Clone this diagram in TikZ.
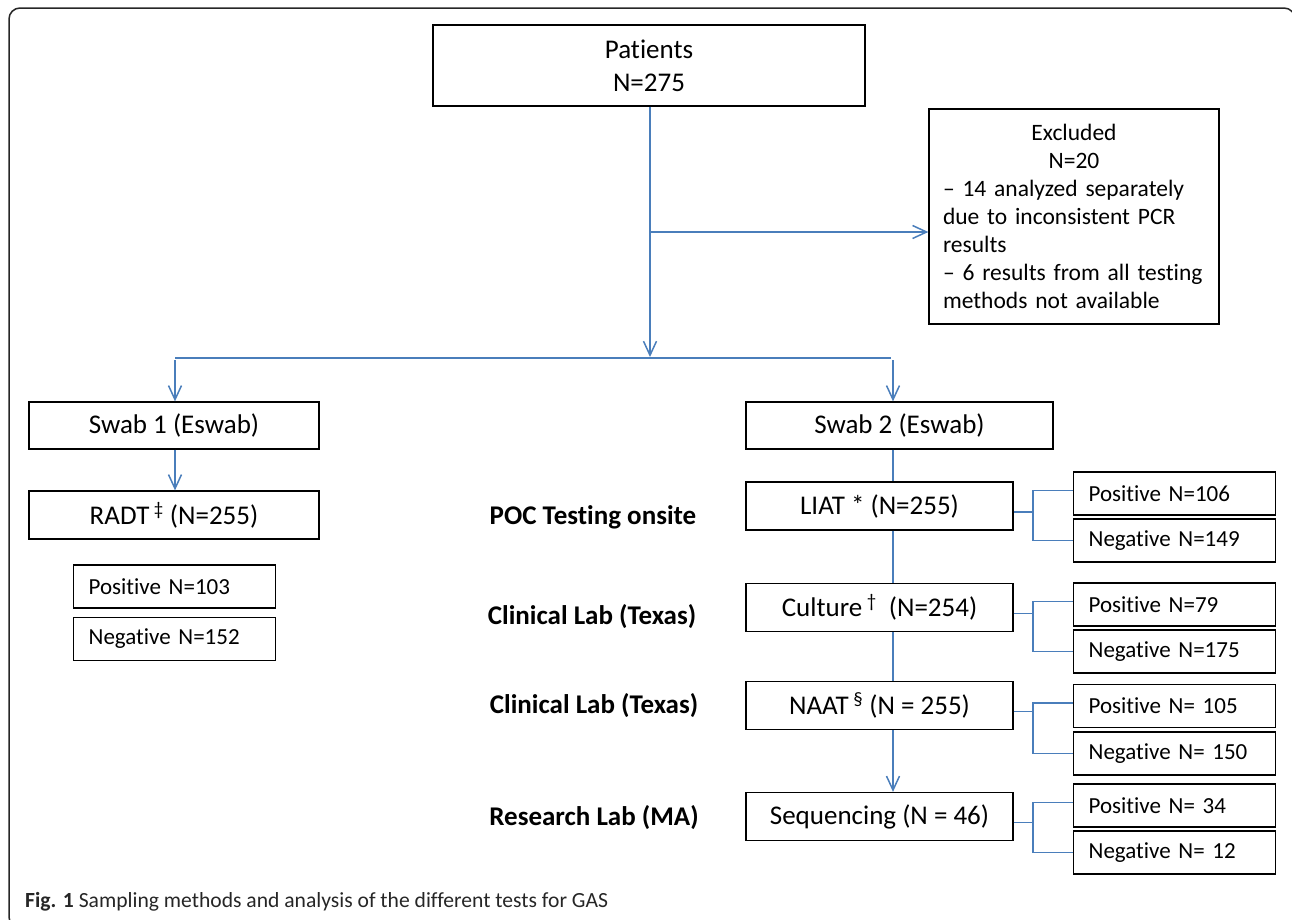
\documentclass[tikz,border=0pt]{standalone}
\usepackage{fontspec}
\setmainfont{Carlito}[Ligatures={NoCommon,NoRare}]
\usetikzlibrary{arrows.meta}
\definecolor{lnblue}{RGB}{74,126,187}
\begin{document}
\begin{tikzpicture}[x=1pt,y=-1pt,
  box/.style={draw=black, line width=1.3pt, inner sep=0pt, align=center,
    font=\fontsize{27}{33}\selectfont},
  resbox/.style={draw=black, line width=1.3pt, inner sep=0pt, anchor=west,
    minimum width=202pt, minimum height=43pt, text width=172pt, align=left,
    font=\fontsize{23}{28}\selectfont},
  lbl/.style={font=\fontsize{27}{33}\selectfont\bfseries},
  conn/.style={draw=lnblue, line width=1.5pt},
  arr/.style={conn, -{Straight Barb[length=14pt,width=13pt,line width=1.5pt]}},
]
\useasboundingbox (0,0) rectangle (1292,919);
\begin{scope}
  \clip (0,0) rectangle (1292,919);
  \draw[line width=1.5pt, draw=black!85, rounded corners=11pt] (9,8) rectangle (1295,928);
\end{scope}

% nodes
\node[box, minimum width=432pt, minimum height=81pt] (pat) at (649,65.5) {Patients\\N=275};
\node[draw=black, line width=1.3pt, inner sep=0pt, minimum width=290pt, minimum height=215pt,
  text width=262pt, align=left, font=\fontsize{23.5}{28}\selectfont] (exc) at (1074,216.5)
  {\makebox[\hsize]{Excluded}\\ \makebox[\hsize]{N=20}\\
   – 14 analyzed separately\\ due to inconsistent PCR\\ results\\
   – 6 results from all testing\\ methods not available};

\node[box, minimum width=290pt, minimum height=47pt] (sw1) at (174,425.5) {Swab 1 (Eswab)};
\node[box, minimum width=307pt, minimum height=47pt] (sw2) at (899.5,425.5) {Swab 2 (Eswab)};
\node[box, minimum width=290pt, minimum height=48pt] (radt) at (174,515) {RADT\,\textsuperscript{‡} (N=255)};
\node[resbox] (p0) at (73,586.5) {Positive N=103};
\node[resbox] (n0) at (73,639) {Negative N=152};

\node[box, minimum width=267pt, minimum height=48pt] (liat) at (879.5,506) {LIAT * (N=255)};
\node[box, minimum width=267pt, minimum height=48pt] (cult) at (879.5,607.5) {Culture\,\textsuperscript{†}\ \ (N=254)};
\node[box, minimum width=267pt, minimum height=48pt] (naat) at (879.5,705.5) {NAAT\,\textsuperscript{§} (N = 255)};
\node[box, minimum width=267pt, minimum height=48pt] (seq) at (879.5,816.5) {Sequencing (N = 46)};

\node[resbox] (p1) at (1073,493.5) {Positive N=106};
\node[resbox] (n1) at (1073,540.5) {Negative N=149};
\node[resbox] (p2) at (1073,604.5) {Positive N=79};
\node[resbox] (n2) at (1073,651.5) {Negative N=175};
\node[resbox] (p3) at (1073,706) {Positive N= 105};
\node[resbox] (n3) at (1073,753.5) {Negative N= 150};
\node[resbox] (p4) at (1073,805.5) {Positive N= 34};
\node[resbox] (n4) at (1073,852.5) {Negative N= 12};

\node[lbl] (l1) at (593,517) {POC Testing onsite};
\node[lbl] (l2) at (592,617) {Clinical Lab (Texas)};
\node[lbl] (l3) at (594,706) {Clinical Lab (Texas)};
\node[lbl] (l4) at (594,818) {Research Lab (MA)};

\node[anchor=base west, inner sep=0pt, font=\fontsize{21.6}{25}\selectfont, text=black!85] (cap) at (25,907)
  {\textbf{Fig. 1} Sampling methods and analysis of the different tests for GAS};

% connectors
\coordinate (split) at (650,357);
\coordinate (exbr) at (650,232);
\coordinate (hl) at (175,358);
\coordinate (hr) at (891,358);
\coordinate (rarr) at (893,360);
\coordinate (larr) at (175,360);
\coordinate (spine) at (893,0);

\draw[conn] (pat.south -| split) -- (exbr);
\draw[arr] (exbr) -- (exc.west |- exbr);
\draw[arr] (exbr) -- (split);
\draw[conn] (hl) -- (hr);
\draw[arr] (larr) -- (sw1.north -| larr);
\draw[arr] (rarr) -- (sw2.north -| rarr);
\draw[arr] (sw1.south -| larr) -- (radt.north -| larr);

\draw[conn] (sw2.south -| spine) -- (liat.north -| spine);
\draw[conn] (liat.south -| spine) -- (cult.north -| spine);
\draw[conn] (cult.south -| spine) -- (naat.north -| spine);
\draw[arr] (naat.south -| spine) -- (seq.north -| spine);

\foreach \t/\p/\n in {liat/p1/n1, cult/p2/n2, naat/p3/n3, seq/p4/n4}{
  \draw[conn] ([yshift=-6pt]\t.east) -- ++(20,0);
  \draw[conn] ([yshift=3pt]\p.west) -- ++(-40,0) |- (\n.west);
}
\end{tikzpicture}
\end{document}
